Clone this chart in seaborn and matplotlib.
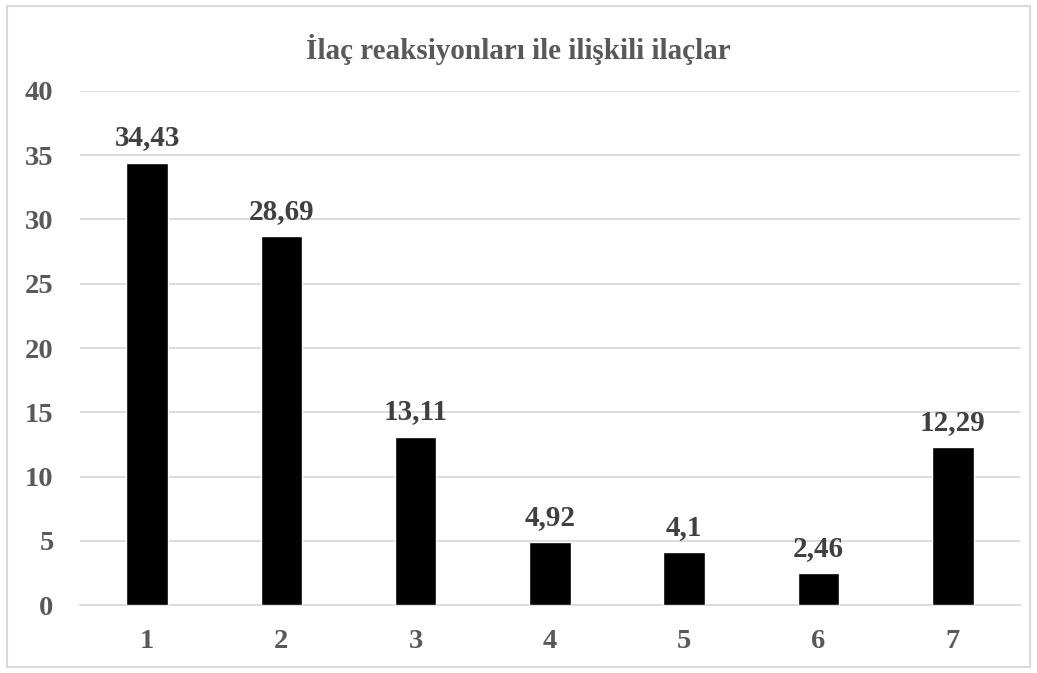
import matplotlib
matplotlib.use("Agg")
import matplotlib.pyplot as plt
import seaborn as sns
import pandas as pd
from matplotlib.patches import Rectangle

categories = ["1", "2", "3", "4", "5", "6", "7"]
values = [34.43, 28.69, 13.11, 4.92, 4.1, 2.46, 12.29]
value_labels = ["34,43", "28,69", "13,11", "4,92", "4,1", "2,46", "12,29"]
y_ticks = [0, 5, 10, 15, 20, 25, 30, 35, 40]
title = "İlaç reaksiyonları ile ilişkili ilaçlar"

sns.set_theme(style="white")
plt.rcParams["font.family"] = ["Liberation Serif", "DejaVu Serif"]
plt.rcParams["font.weight"] = "bold"

df = pd.DataFrame({"cat": categories, "val": values})

fig = plt.figure(figsize=(10.37, 6.73), dpi=100)
ax = fig.add_axes([0.0771, 0.101, 0.9065, 0.7638])

sns.barplot(data=df, x="cat", y="val", color="black", width=0.31,
            saturation=1, ax=ax, zorder=3)

ax.set_ylim(0, 40)
ax.set_yticks(y_ticks)
ax.set_xlim(-0.5, len(categories) - 0.5)
ax.yaxis.grid(True, color="#d9d9d9", linewidth=1.3, zorder=0)
ax.set_axisbelow(True)
for s in ["top", "right", "left"]:
    ax.spines[s].set_visible(False)
ax.spines["bottom"].set_color("#d9d9d9")
ax.spines["bottom"].set_linewidth(1.3)
ax.tick_params(axis="both", length=0, labelsize=20.5, labelcolor="#595959")
ax.tick_params(axis="y", pad=19)
ax.tick_params(axis="x", pad=17)
for lbl in ax.get_xticklabels() + ax.get_yticklabels():
    lbl.set_fontweight("bold")
ax.set_xlabel("")
ax.set_ylabel("")

for i, (v, t) in enumerate(zip(values, value_labels)):
    ax.annotate(t, xy=(i, v), xytext=(0, 8), textcoords="offset points",
                ha="center", va="bottom", fontsize=21, fontweight="bold",
                color="#404040")

fig.text(0.5, 0.927, title, ha="center", va="center", fontsize=21,
         fontweight="bold", color="#595959")

fig.patches.append(Rectangle((0.007, 0.009), 0.986, 0.982, transform=fig.transFigure,
                             fill=False, edgecolor="#d9d9d9", linewidth=1.5))

fig.savefig("out.png", dpi=100)
